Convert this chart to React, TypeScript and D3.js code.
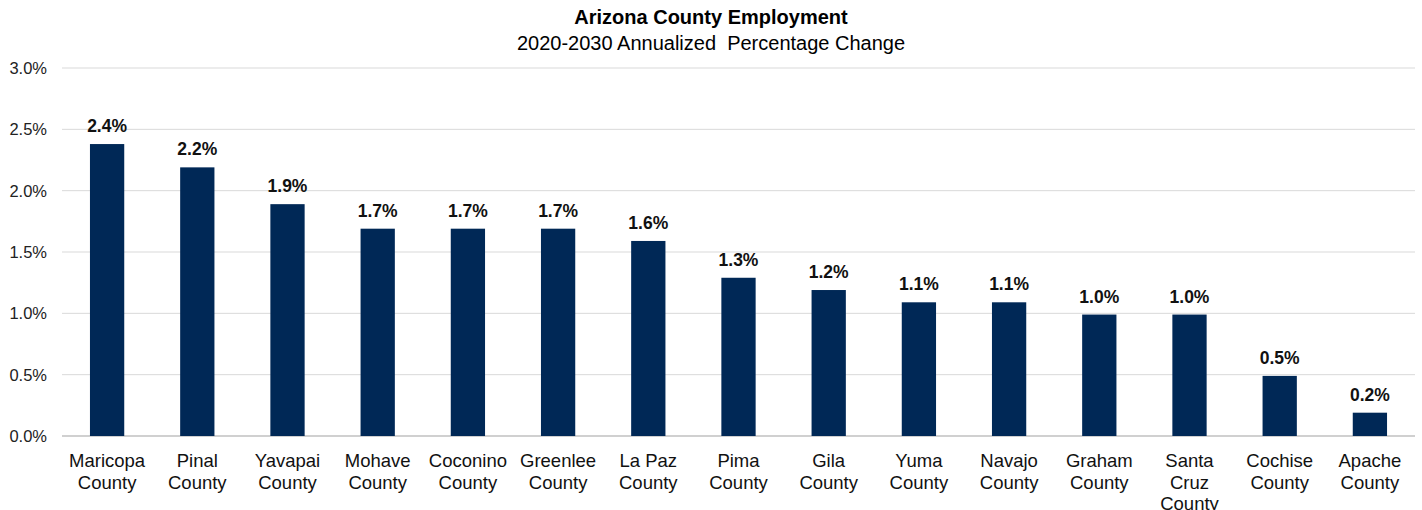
import React from "react";
import * as d3 from "d3";

const counties = [
  ["Maricopa", "County"], ["Pinal", "County"], ["Yavapai", "County"], ["Mohave", "County"],
  ["Coconino", "County"], ["Greenlee", "County"], ["La Paz", "County"], ["Pima", "County"],
  ["Gila", "County"], ["Yuma", "County"], ["Navajo", "County"], ["Graham", "County"],
  ["Santa", "Cruz", "County"], ["Cochise", "County"], ["Apache", "County"],
];
const values = [2.38, 2.19, 1.89, 1.69, 1.69, 1.69, 1.59, 1.29, 1.19, 1.09, 1.09, 0.99, 0.99, 0.49, 0.19];
const yTicks = [0, 0.5, 1.0, 1.5, 2.0, 2.5, 3.0];
const title = "Arizona County Employment";
const subtitle = "2020-2030 Annualized  Percentage Change";

export default function App() {
  const W = 1422, H = 510;
  const left = 62, right = 1415, top = 68, bottom = 436;
  const keys = counties.map((c, i) => String(i));
  const x = d3.scaleBand().domain(keys).range([left, right]).paddingInner(0.62).paddingOuter(0.31);
  const y = d3.scaleLinear().domain([0, 3]).range([bottom, top]);
  const font = "'Liberation Sans', Arial, sans-serif";
  return (
    <svg width={W} height={H} style={{ position: "absolute", left: 0, top: 0, background: "#fff" }} fontFamily={font}>
      <text x={711} y={24} textAnchor="middle" fontSize={20} fontWeight="bold" fill="#000">{title}</text>
      <text x={711} y={50} textAnchor="middle" fontSize={20} fill="#000" style={{ whiteSpace: "pre" }}>{subtitle}</text>
      {yTicks.map((t) => (
        <g key={t}>
          <line x1={left} x2={right} y1={y(t)} y2={y(t)} stroke={t === 0 ? "#d0d0d0" : "#d9d9d9"} strokeWidth={t === 0 ? 2 : 1} />
          <text x={47} y={y(t) + 6} textAnchor="end" fontSize={16.5} fill="#222">{d3.format(".1f")(t) + "%"}</text>
        </g>
      ))}
      {values.map((v, i) => {
        const bx = x(String(i))!;
        const bw = x.bandwidth();
        return (
          <g key={i}>
            <rect x={bx} y={y(v)} width={bw} height={bottom - y(v)} fill="#002856" />
            <text x={bx + bw / 2} y={y(v) - 12} textAnchor="middle" fontSize={17.5} fontWeight="bold" fill="#111">{d3.format(".1f")(v) + "%"}</text>
            {counties[i].map((line, j) => (
              <text key={j} x={bx + bw / 2} y={467 + j * 21.5} textAnchor="middle" fontSize={18.5} fill="#111">{line}</text>
            ))}
          </g>
        );
      })}
    </svg>
  );
}
